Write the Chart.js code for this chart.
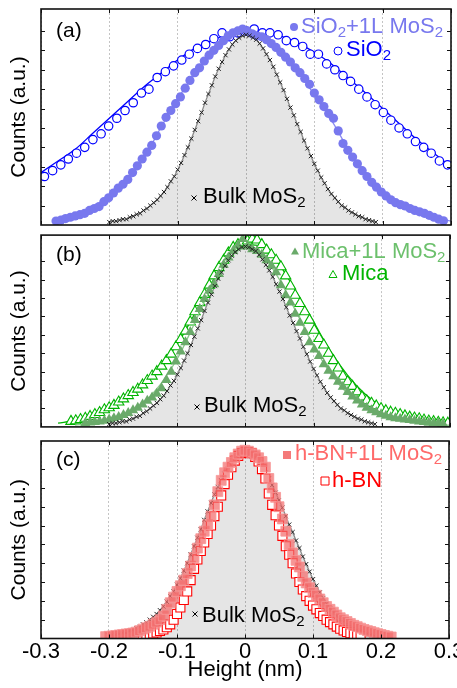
<!DOCTYPE html>
<html>
<head>
<meta charset="utf-8">
<script src="https://cdn.jsdelivr.net/npm/chart.js@4.4.0/dist/chart.umd.min.js"></script>
<style>
  body { margin: 0; background: #fff; }
  #wrap { position: relative; width: 457px; height: 688px; overflow: hidden; }
  canvas { position: absolute; left: 0; }
</style>
</head>
<body>
<div id="wrap">
  <canvas id="chartA" width="457" height="231" style="top:0"></canvas>
  <canvas id="chartB" width="457" height="206" style="top:228px"></canvas>
  <canvas id="chartC" width="457" height="255" style="top:433px"></canvas>
</div>
<script>
// x axis ticks (nm)
const xTicks = [-0.3, -0.2, -0.1, 0, 0.1, 0.2, 0.3];

// Bulk MoS2 - same histogram shown in every panel
const bulkX = [-0.200, -0.195, -0.190, -0.185, -0.180, -0.175, -0.170, -0.165, -0.160, -0.155,
  -0.150, -0.145, -0.140, -0.135, -0.130, -0.125, -0.120, -0.115, -0.110, -0.105,
  -0.100, -0.095, -0.090, -0.085, -0.080, -0.075, -0.070, -0.065, -0.060, -0.055,
  -0.050, -0.045, -0.040, -0.035, -0.030, -0.025, -0.020, -0.015, -0.010, -0.005,
  0.000, 0.005, 0.010, 0.015, 0.020, 0.025, 0.030, 0.035, 0.040, 0.045,
  0.050, 0.055, 0.060, 0.065, 0.070, 0.075, 0.080, 0.085, 0.090, 0.095,
  0.100, 0.105, 0.110, 0.115, 0.120, 0.125, 0.130, 0.135, 0.140, 0.145,
  0.150, 0.155, 0.160, 0.165, 0.170, 0.175, 0.180, 0.185, 0.190];
const bulkY = [0.015, 0.02, 0.02, 0.025, 0.03, 0.03, 0.04, 0.045, 0.055, 0.06,
  0.075, 0.085, 0.10, 0.115, 0.13, 0.15, 0.17, 0.195, 0.225, 0.25,
  0.285, 0.32, 0.36, 0.40, 0.445, 0.49, 0.535, 0.58, 0.63, 0.675,
  0.72, 0.765, 0.805, 0.84, 0.875, 0.905, 0.93, 0.95, 0.965, 0.975,
  0.98, 0.975, 0.965, 0.955, 0.935, 0.91, 0.88, 0.85, 0.815, 0.775,
  0.735, 0.695, 0.65, 0.605, 0.565, 0.52, 0.48, 0.435, 0.395, 0.355,
  0.315, 0.28, 0.245, 0.215, 0.185, 0.16, 0.14, 0.12, 0.10, 0.09,
  0.075, 0.065, 0.055, 0.045, 0.04, 0.03, 0.025, 0.02, 0.015];

// (a) SiO2 substrate, open circles + fit
const sio2X = [-0.295, -0.283, -0.271, -0.260, -0.248, -0.236, -0.224, -0.212, -0.201, -0.189,
  -0.177, -0.165, -0.153, -0.142, -0.130, -0.118, -0.106, -0.094, -0.083, -0.071,
  -0.059, -0.047, -0.035, -0.024, -0.012, 0.000, 0.012, 0.024, 0.035, 0.047,
  0.059, 0.071, 0.083, 0.094, 0.106, 0.118, 0.130, 0.142, 0.153, 0.165,
  0.177, 0.189, 0.201, 0.212, 0.224, 0.236, 0.248, 0.260, 0.271, 0.283, 0.295];
const sio2Y = [0.25, 0.28, 0.31, 0.34, 0.37, 0.40, 0.44, 0.47, 0.51, 0.55,
  0.59, 0.63, 0.68, 0.70, 0.76, 0.79, 0.82, 0.85, 0.88, 0.91,
  0.93, 0.96, 0.99, 0.97, 0.99, 1.00, 1.01, 0.99, 0.99, 0.98,
  0.95, 0.94, 0.92, 0.88, 0.88, 0.83, 0.80, 0.77, 0.74, 0.70,
  0.66, 0.62, 0.58, 0.54, 0.50, 0.47, 0.43, 0.40, 0.37, 0.33, 0.31];
const fitX = [-0.3, -0.275, -0.25, -0.225, -0.2, -0.175, -0.15, -0.125, -0.1, -0.075, -0.05, -0.025,
  0, 0.025, 0.05, 0.075, 0.1, 0.125, 0.15, 0.175, 0.2, 0.225, 0.25, 0.275, 0.3];
const sio2FitY = [0.27, 0.33, 0.39, 0.47, 0.55, 0.63, 0.71, 0.78, 0.85, 0.91, 0.95, 0.985,
  1.0, 0.995, 0.975, 0.94, 0.89, 0.83, 0.755, 0.68, 0.60, 0.52, 0.44, 0.37, 0.30];

// (a) SiO2 + 1L MoS2, filled circles + fit
const sio2MosX = [-0.278, -0.271, -0.264, -0.257, -0.250, -0.243, -0.236, -0.229, -0.222, -0.215,
  -0.208, -0.201, -0.194, -0.187, -0.180, -0.173, -0.166, -0.159, -0.152, -0.145,
  -0.138, -0.131, -0.124, -0.117, -0.110, -0.103, -0.096, -0.089, -0.082, -0.075,
  -0.068, -0.061, -0.054, -0.047, -0.040, -0.033, -0.026, -0.019, -0.012, -0.005,
  0.002, 0.009, 0.016, 0.023, 0.030, 0.037, 0.044, 0.051, 0.058, 0.065,
  0.072, 0.079, 0.086, 0.093, 0.100, 0.107, 0.114, 0.121, 0.128, 0.135,
  0.142, 0.149, 0.156, 0.163, 0.170, 0.177, 0.184, 0.191, 0.198, 0.205,
  0.212, 0.219, 0.226, 0.233, 0.240, 0.247, 0.254, 0.261, 0.268, 0.275,
  0.282, 0.289];
const sio2MosY = [0.02, 0.025, 0.033, 0.04, 0.047, 0.053, 0.06, 0.075, 0.085, 0.095,
  0.12, 0.14, 0.165, 0.19, 0.21, 0.235, 0.27, 0.305, 0.34, 0.375,
  0.41, 0.46, 0.51, 0.555, 0.59, 0.625, 0.66, 0.705, 0.745, 0.785,
  0.81, 0.845, 0.875, 0.90, 0.925, 0.95, 0.975, 0.99, 1.0, 1.01,
  1.0, 0.985, 0.975, 0.97, 0.955, 0.935, 0.915, 0.89, 0.865, 0.84,
  0.81, 0.785, 0.755, 0.725, 0.68, 0.645, 0.61, 0.575, 0.55, 0.485,
  0.42, 0.385, 0.35, 0.315, 0.28, 0.25, 0.22, 0.195, 0.17, 0.15,
  0.13, 0.115, 0.105, 0.098, 0.085, 0.075, 0.068, 0.06, 0.05, 0.04,
  0.03, 0.022];
const sio2MosFitX = fitX.slice(1);
const sio2MosFitY = [0.03, 0.05, 0.085, 0.15, 0.23, 0.34, 0.50, 0.65, 0.78, 0.89, 0.97,
  1.0, 0.97, 0.90, 0.80, 0.67, 0.54, 0.39, 0.27, 0.17, 0.11, 0.07, 0.04, 0.02];

// (b) Mica substrate, open triangles + fit
const micaX = [-0.256, -0.249, -0.242, -0.235, -0.228, -0.221, -0.214, -0.207, -0.200, -0.193,
  -0.186, -0.179, -0.172, -0.165, -0.158, -0.151, -0.144, -0.137, -0.130, -0.123,
  -0.116, -0.109, -0.102, -0.095, -0.088, -0.081, -0.074, -0.067, -0.060, -0.053,
  -0.046, -0.039, -0.032, -0.025, -0.018, -0.011, -0.004, 0.003, 0.010, 0.017,
  0.024, 0.031, 0.038, 0.045, 0.052, 0.059, 0.066, 0.073, 0.080, 0.087,
  0.094, 0.101, 0.108, 0.115, 0.122, 0.129, 0.136, 0.143, 0.150, 0.157,
  0.164, 0.171, 0.178, 0.185, 0.192, 0.199, 0.206, 0.213, 0.220, 0.227,
  0.234, 0.241, 0.248, 0.255, 0.262, 0.269, 0.276, 0.283, 0.290, 0.297];
const micaY = [0.03, 0.033, 0.04, 0.047, 0.057, 0.067, 0.078, 0.093, 0.104, 0.117,
  0.135, 0.152, 0.17, 0.187, 0.205, 0.228, 0.252, 0.276, 0.30, 0.33,
  0.36, 0.395, 0.435, 0.475, 0.52, 0.57, 0.625, 0.675, 0.72, 0.77,
  0.82, 0.865, 0.905, 0.945, 0.975, 0.99, 1.00, 1.01, 1.02, 1.015,
  0.99, 0.96, 0.935, 0.905, 0.87, 0.82, 0.765, 0.715, 0.67, 0.625,
  0.58, 0.525, 0.48, 0.445, 0.40, 0.36, 0.32, 0.275, 0.245, 0.22,
  0.19, 0.162, 0.142, 0.128, 0.114, 0.10, 0.088, 0.08, 0.074, 0.067,
  0.06, 0.053, 0.048, 0.044, 0.037, 0.032, 0.029, 0.025, 0.022, 0.02];
const micaFitX = fitX.slice(1);
const micaFitY = [0.02, 0.035, 0.06, 0.10, 0.16, 0.23, 0.33, 0.45, 0.61, 0.78, 0.92,
  0.99, 0.98, 0.88, 0.73, 0.57, 0.41, 0.28, 0.18, 0.11, 0.07, 0.045, 0.03, 0.02];

// (b) Mica + 1L MoS2, filled triangles + fit
const micaMosX = [-0.235, -0.228, -0.221, -0.214, -0.207, -0.200, -0.193, -0.186, -0.179, -0.172,
  -0.165, -0.158, -0.151, -0.144, -0.137, -0.130, -0.123, -0.116, -0.109, -0.102,
  -0.095, -0.088, -0.081, -0.074, -0.067, -0.060, -0.053, -0.046, -0.039, -0.032,
  -0.025, -0.018, -0.011, -0.004, 0.003, 0.010, 0.017, 0.024, 0.031, 0.038,
  0.045, 0.052, 0.059, 0.066, 0.073, 0.080, 0.087, 0.094, 0.101, 0.108,
  0.115, 0.122, 0.129, 0.136, 0.143, 0.150, 0.157, 0.164, 0.171, 0.178,
  0.185, 0.192, 0.199, 0.206, 0.213, 0.220, 0.227, 0.234, 0.241, 0.248,
  0.255, 0.262, 0.269, 0.276, 0.283, 0.290];
const micaMosY = [0.02, 0.024, 0.027, 0.03, 0.034, 0.04, 0.047, 0.054, 0.064, 0.076,
  0.09, 0.104, 0.122, 0.142, 0.16, 0.18, 0.21, 0.255, 0.30, 0.355,
  0.41, 0.46, 0.515, 0.58, 0.64, 0.695, 0.74, 0.775, 0.83, 0.88,
  0.92, 0.955, 0.985, 1.02, 0.98, 0.965, 0.955, 0.935, 0.905, 0.875,
  0.84, 0.77, 0.715, 0.675, 0.615, 0.565, 0.515, 0.46, 0.42, 0.385,
  0.34, 0.305, 0.275, 0.245, 0.218, 0.19, 0.165, 0.143, 0.122, 0.104,
  0.09, 0.08, 0.069, 0.06, 0.052, 0.047, 0.044, 0.04, 0.037, 0.033,
  0.03, 0.026, 0.023, 0.02, 0.02, 0.016];
const micaMosFitX = fitX.slice(2);
const micaMosFitY = [0.01, 0.02, 0.035, 0.07, 0.13, 0.23, 0.37, 0.56, 0.76, 0.91,
  0.97, 0.93, 0.80, 0.62, 0.44, 0.29, 0.18, 0.11, 0.065, 0.04, 0.025, 0.015, 0.01];

// (c) h-BN + 1L MoS2, filled squares
const hbnMosX = [-0.205, -0.200, -0.195, -0.190, -0.185, -0.180, -0.175, -0.170, -0.165, -0.160,
  -0.155, -0.150, -0.145, -0.140, -0.135, -0.130, -0.125, -0.120, -0.115, -0.110,
  -0.105, -0.100, -0.095, -0.090, -0.085, -0.080, -0.075, -0.070, -0.065, -0.060,
  -0.055, -0.050, -0.045, -0.040, -0.035, -0.030, -0.025, -0.020, -0.015, -0.010,
  -0.005, 0.000, 0.005, 0.010, 0.015, 0.020, 0.025, 0.030, 0.035, 0.040,
  0.045, 0.050, 0.055, 0.060, 0.065, 0.070, 0.075, 0.080, 0.085, 0.090,
  0.095, 0.100, 0.105, 0.110, 0.115, 0.120, 0.125, 0.130, 0.135, 0.140,
  0.145, 0.150, 0.155, 0.160, 0.165, 0.170, 0.175, 0.180, 0.185, 0.190,
  0.195, 0.200, 0.205, 0.210, 0.215];
const hbnMosY = [0.01, 0.012, 0.014, 0.016, 0.019, 0.021, 0.024, 0.026, 0.029, 0.034,
  0.042, 0.05, 0.057, 0.065, 0.076, 0.087, 0.10, 0.12, 0.155, 0.19,
  0.22, 0.25, 0.28, 0.31, 0.345, 0.385, 0.43, 0.48, 0.53, 0.57,
  0.605, 0.65, 0.71, 0.78, 0.84, 0.88, 0.91, 0.935, 0.96, 0.98,
  0.995, 1.00, 0.995, 0.985, 0.975, 0.96, 0.94, 0.91, 0.85, 0.80,
  0.75, 0.70, 0.635, 0.57, 0.50, 0.455, 0.415, 0.38, 0.33, 0.295,
  0.27, 0.245, 0.23, 0.21, 0.19, 0.17, 0.155, 0.14, 0.125, 0.11,
  0.10, 0.09, 0.08, 0.07, 0.063, 0.055, 0.048, 0.042, 0.037, 0.031,
  0.026, 0.021, 0.016, 0.012, 0.008];

// (c) h-BN substrate, open squares
const hbnX = [-0.150, -0.145, -0.140, -0.135, -0.130, -0.125, -0.120, -0.115, -0.110, -0.105,
  -0.100, -0.095, -0.090, -0.085, -0.080, -0.075, -0.070, -0.065, -0.060, -0.055,
  -0.050, -0.045, -0.040, -0.035, -0.030, -0.025, -0.020, -0.015, -0.010, -0.005,
  0.000, 0.005, 0.010, 0.015, 0.020, 0.025, 0.030, 0.035, 0.040, 0.045,
  0.050, 0.055, 0.060, 0.065, 0.070, 0.075, 0.080, 0.085, 0.090, 0.095,
  0.100, 0.105, 0.110, 0.115, 0.120, 0.125, 0.130, 0.135, 0.140, 0.145,
  0.150, 0.155, 0.160, 0.165, 0.170];
const hbnY = [0.012, 0.016, 0.021, 0.026, 0.032, 0.04, 0.048, 0.06, 0.075, 0.10,
  0.13, 0.165, 0.205, 0.25, 0.31, 0.37, 0.42, 0.465, 0.51, 0.555,
  0.60, 0.65, 0.70, 0.76, 0.82, 0.87, 0.91, 0.945, 0.97, 0.985,
  0.99, 0.99, 0.985, 0.965, 0.94, 0.90, 0.85, 0.77, 0.71, 0.655,
  0.60, 0.545, 0.49, 0.445, 0.40, 0.345, 0.30, 0.26, 0.225, 0.20,
  0.175, 0.155, 0.135, 0.12, 0.10, 0.087, 0.075, 0.063, 0.052, 0.043,
  0.035, 0.028, 0.022, 0.017, 0.013];

const FONT = '"Liberation Sans", Arial, sans-serif';
const pts = (xs, ys) => xs.map((x, i) => ({ x: x, y: ys[i] }));

function fitLine(xs, ys, color, order) {
  return { data: pts(xs, ys), showLine: true, borderColor: color, borderWidth: 1.3,
    pointRadius: 0, tension: 0.4, cubicInterpolationMode: 'monotone', fill: false, order: order };
}
function markers(xs, ys, style, radius, fillColor, edgeColor, edgeWidth, order) {
  return { data: pts(xs, ys), showLine: false, pointStyle: style, pointRadius: radius,
    backgroundColor: fillColor, borderColor: edgeColor, borderWidth: edgeWidth, order: order };
}
function bulkSets(crossOrder) {
  return [
    { data: pts(bulkX, bulkY), showLine: true, borderColor: '#8a8a8a', borderWidth: 1.3,
      pointRadius: 0, tension: 0.4, cubicInterpolationMode: 'monotone',
      fill: 'origin', backgroundColor: 'rgba(0,0,0,0.1)', order: 20 },
    markers(bulkX, bulkY, 'crossRot', 3, '#000', '#222', 1, crossOrder)
  ];
}

// marker glyph used in the inline legends
function drawMark(ctx, kind, x, y, color) {
  ctx.save();
  ctx.fillStyle = color; ctx.strokeStyle = color; ctx.lineWidth = 1;
  ctx.beginPath();
  if (kind === 'dot' || kind === 'ring') {
    ctx.arc(x, y, 4, 0, Math.PI * 2);
  } else if (kind === 'tri' || kind === 'otri') {
    ctx.moveTo(x, y - 4.5); ctx.lineTo(x + 4, y + 2.5); ctx.lineTo(x - 4, y + 2.5); ctx.closePath();
  } else if (kind === 'sq' || kind === 'osq') {
    ctx.rect(x - 4, y - 4, 8, 8);
  } else if (kind === 'cross') {
    ctx.moveTo(x - 2.5, y - 2.5); ctx.lineTo(x + 2.5, y + 2.5);
    ctx.moveTo(x + 2.5, y - 2.5); ctx.lineTo(x - 2.5, y + 2.5);
    ctx.stroke(); ctx.restore(); return;
  }
  if (kind === 'ring' || kind === 'otri' || kind === 'osq') {
    ctx.fillStyle = '#fff'; ctx.fill(); ctx.stroke();
  } else {
    ctx.fill();
  }
  ctx.restore();
}

function drawRich(ctx, x, y, parts, color) {
  ctx.fillStyle = color;
  ctx.textBaseline = 'alphabetic';
  ctx.textAlign = 'left';
  parts.forEach(p => {
    const sub = p[1];
    ctx.font = (sub ? 15 : 22) + 'px ' + FONT;
    ctx.fillText(p[0], x, sub ? y + 4 : y);
    x += ctx.measureText(p[0]).width;
  });
}

// frame, inward ticks and text labels of each panel
const panelPlugin = {
  id: 'panel',
  afterDatasetsDraw(chart, args, opts) {
    const ctx = chart.ctx, a = chart.chartArea;
    const xs = chart.scales.x, ys = chart.scales.y;
    ctx.save();
    ctx.strokeStyle = '#111';
    ctx.lineWidth = 1;
    ctx.beginPath();
    xTicks.forEach(v => {
      const px = Math.round(xs.getPixelForValue(v)) + 0.5;
      ctx.moveTo(px, a.top); ctx.lineTo(px, a.top + 4);
      ctx.moveTo(px, a.bottom); ctx.lineTo(px, a.bottom - 4);
    });
    ys.ticks.forEach(t => {
      if (t.value <= 0 || t.value > 1.001) return;
      const py = Math.round(ys.getPixelForValue(t.value)) + 0.5;
      ctx.moveTo(a.left, py); ctx.lineTo(a.left + 4, py);
      ctx.moveTo(a.right, py); ctx.lineTo(a.right - 4, py);
    });
    ctx.stroke();
    ctx.lineWidth = 1.6;
    ctx.strokeRect(a.left, a.top, a.right - a.left, a.bottom - a.top);

    const off = opts.offset;
    ctx.fillStyle = '#000';
    ctx.font = '21px ' + FONT;
    ctx.textBaseline = 'alphabetic';
    ctx.fillText(opts.tag, 56, opts.tagY - off);
    opts.labels.forEach(l => {
      drawMark(ctx, l.mark, l.mx, l.my - off, l.markColor || l.color);
      drawRich(ctx, l.x, l.y - off, l.parts, l.color);
    });
    ctx.restore();
  }
};

function makePanel(id, offset, padTop, padBottom, yMax, datasets, tag, tagY, labels, showX) {
  return new Chart(document.getElementById(id), {
    type: 'scatter',
    data: { datasets: datasets },
    plugins: [panelPlugin],
    options: {
      responsive: false,
      animation: false,
      events: [],
      layout: { padding: { top: padTop, bottom: padBottom, left: 0, right: 6 } },
      plugins: {
        legend: { display: false },
        tooltip: { enabled: false },
        panel: { offset: offset, tag: tag, tagY: tagY, labels: labels }
      },
      scales: {
        x: {
          type: 'linear', min: -0.3, max: 0.3,
          afterBuildTicks: s => { s.ticks = xTicks.map(v => ({ value: v })); },
          grid: { color: '#c4c4c4', lineWidth: 1, drawTicks: false },
          border: { display: false, dash: [2, 2] },
          ticks: {
            display: showX, color: '#000', padding: 0,
            font: { family: FONT, size: 22 },
            callback: v => (v === 0 ? '0' : v.toFixed(1))
          },
          title: { display: showX, text: 'Height (nm)', color: '#000',
            font: { family: FONT, size: 22 }, padding: { top: 0, bottom: 5 } },
          afterFit: s => {
            if (showX) s.height = 49.5;
            s.paddingLeft = 0; s.paddingRight = 0;
          }
        },
        y: {
          min: 0, max: yMax,
          ticks: { display: false, stepSize: 0.1 },
          grid: { display: false, drawTicks: false },
          border: { display: false },
          title: { display: true, text: 'Counts (a.u.)', color: '#000',
            font: { family: FONT, size: 21 }, padding: { top: 7, bottom: 0 } },
          afterFit: s => { s.width = 41; }
        }
      }
    }
  });
}

const bulkLabel = (mx, my, x, y) => ({ mark: 'cross', mx: mx, my: my, x: x, y: y,
  parts: [['Bulk MoS', 0], ['2', 1]], color: '#000' });

makePanel('chartA', 0, 9, 6, 1.113, [
  ...bulkSets(1),
  fitLine(fitX, sio2FitY, '#0000ff', 8),
  markers(sio2X, sio2Y, 'circle', 4.2, '#fff', '#0000ff', 1.2, 7),
  fitLine(sio2MosFitX, sio2MosFitY, '#8a8af2', 6),
  markers(sio2MosX, sio2MosY, 'circle', 4.6, '#7878ee', '#7878ee', 0, 5)
], '(a)', 37, [
  { mark: 'dot', mx: 294, my: 27, x: 301, y: 33, parts: [['SiO', 0], ['2', 1], ['+1L MoS', 0], ['2', 1]], color: '#7878ee' },
  { mark: 'ring', mx: 338, my: 51, x: 346, y: 56, parts: [['SiO', 0], ['2', 1]], color: '#0000ff' },
  bulkLabel(194, 198, 203, 203)
], false);

makePanel('chartB', 228, 3, 3, 1.0417, [
  ...bulkSets(1),
  fitLine(micaFitX, micaFitY, '#00b400', 8),
  markers(micaX, micaY, 'triangle', 6, '#fff', '#00b400', 1.1, 7),
  fitLine(micaMosFitX, micaMosFitY, '#8cc88c', 6),
  markers(micaMosX, micaMosY, 'triangle', 6, '#6aaa6a', '#6aaa6a', 0, 5)
], '(b)', 261, [
  { mark: 'tri', mx: 295, my: 252, x: 302, y: 258, parts: [['Mica+1L MoS', 0], ['2', 1]], color: '#6cc06c', markColor: '#6aaa6a' },
  { mark: 'otri', mx: 333, my: 275, x: 342, y: 280, parts: [['Mica', 0]], color: '#00b400' },
  bulkLabel(197, 407, 204, 412)
], false);

makePanel('chartC', 433, 3, 0, 1.049, [
  ...bulkSets(9),
  markers(hbnX, hbnY, 'rect', 6.4, '#fff', '#ff0000', 1.1, 7),
  markers(hbnMosX, hbnMosY, 'rect', 7, 'rgba(242,108,108,0.72)', 'rgba(248,150,150,0.8)', 1, 5)
], '(c)', 466, [
  { mark: 'sq', mx: 287, my: 455, x: 295, y: 460, parts: [['h-BN+1L MoS', 0], ['2', 1]], color: '#ff6a6a', markColor: '#f47a7a' },
  { mark: 'osq', mx: 325, my: 481, x: 332, y: 487, parts: [['h-BN', 0]], color: '#ff0000' },
  bulkLabel(195, 614, 202, 622)
], true);
</script>
</body>
</html>
